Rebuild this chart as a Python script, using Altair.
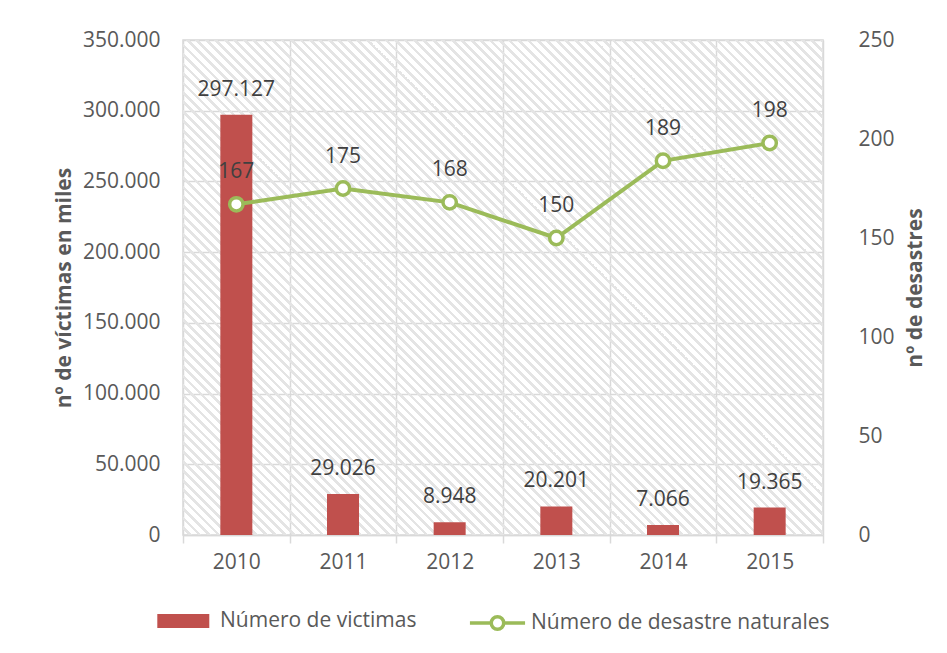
import altair as alt
import pandas as pd

# ---- data ----
years = ["2010", "2011", "2012", "2013", "2014", "2015"]
victims = [297127, 29026, 8948, 20201, 7066, 19365]
disasters = [167, 175, 168, 150, 189, 198]
bar_series = "Número de victimas"
line_series = "Número de desastre naturales"
left_ticks = [0, 50000, 100000, 150000, 200000, 250000, 300000, 350000]
right_ticks = [0, 50, 100, 150, 200, 250]

df = pd.DataFrame({
    "year": years,
    "victims": victims,
    "disasters": disasters,
    "bar_series": [bar_series] * len(years),
    "line_series": [line_series] * len(years),
})

W, H = 640, 495
FONT = "Open Sans"
GREY = "#595959"
DARK = "#404040"
GRID = "#d9d9d9"
RED = "#C0504D"
GREEN = "#9BBB59"

# diagonal hatch for the plot background, built as a striped linear gradient
period = 9.5
gray_frac = 0.4
r = H / W
s = (1 + r) / (1 + r * r)
n = int((W + H) / period) + 1
dt = 1.0 / n
CLEAR = "rgba(255,255,255,0)"
STRIPE = "#e4e4e4"
stops = []
for k in range(n):
    t0 = k * dt
    t1 = t0 + (1 - gray_frac) * dt
    t2 = min(1.0, t0 + dt)
    stops += [
        alt.GradientStop(offset=round(t0, 5), color=CLEAR),
        alt.GradientStop(offset=round(t1, 5), color=CLEAR),
        alt.GradientStop(offset=round(t1, 5), color=STRIPE),
        alt.GradientStop(offset=round(t2, 5), color=STRIPE),
    ]
hatch = alt.LinearGradient(gradient="linear", x1=0, y1=1, x2=s, y2=1 - s * r, stops=stops)

base = alt.Chart(df)

bg = alt.Chart(pd.DataFrame({"k": [0]})).mark_rect(color=hatch).encode(
    x=alt.value(0), x2=alt.value("width"), y=alt.value(0), y2=alt.value("height")
)

x_enc = alt.X(
    "year:N",
    title=None,
    scale=alt.Scale(paddingInner=0, paddingOuter=0),
    axis=alt.Axis(
        labelAngle=0, tickBand="extent", grid=True, gridColor=GRID, gridWidth=1.5,
        ticks=True, tickSize=8, tickColor=GRID, tickWidth=1.5,
        domainColor=GRID, domainWidth=1.5, labelPadding=8,
    ),
)

y_left = alt.Y(
    "victims:Q",
    scale=alt.Scale(domain=[0, 350000], nice=False),
    axis=alt.Axis(
        values=left_ticks, format=",d", title="nº de víctimas en miles",
        grid=True, gridColor=GRID, gridWidth=1.5, ticks=False, domain=False,
        labelPadding=23, titlePadding=8,
    ),
)

y_right = alt.Y(
    "disasters:Q",
    scale=alt.Scale(domain=[0, 250], nice=False),
    axis=alt.Axis(
        values=right_ticks, title="nº de desastres", orient="right",
        grid=False, ticks=False, domain=False, labelPadding=35, titlePadding=10,
        titleAngle=270, titleBaseline="top",
    ),
)

bars = base.mark_bar(size=32).encode(
    x=x_enc,
    y=y_left,
    fill=alt.Fill(
        "bar_series:N",
        scale=alt.Scale(domain=[bar_series], range=[RED]),
        legend=alt.Legend(
            title=None, orient="none", legendX=-12.7, legendY=568, padding=0,
            symbolType="M-2,-0.54H2V0.54H-2Z", symbolSize=676,
            symbolStrokeWidth=0, labelFont=FONT, labelFontSize=21,
            labelColor=GREY, labelOffset=23.7, labelLimit=400,
        ),
    ),
)

bar_text = base.mark_text(dy=-25, fontSize=21, font=FONT, color=DARK).encode(
    x=x_enc, y=y_left, text=alt.Text("victims:Q", format=",d")
)

line = base.mark_line(strokeWidth=4).encode(
    x=x_enc,
    y=y_right,
    stroke=alt.Stroke(
        "line_series:N",
        scale=alt.Scale(domain=[line_series], range=[GREEN]),
        legend=alt.Legend(
            title=None, orient="none", legendX=299.5, legendY=568, padding=0,
            symbolType="M-2.12,0H-0.48M0.48,0H2.12M0.48,0A0.48,0.48,0,1,1,-0.48,0A0.48,0.48,0,1,1,0.48,0",
            symbolSize=676, symbolStrokeWidth=3.5, symbolFillColor="white",
            labelFont=FONT, labelFontSize=21, labelColor=GREY, labelOffset=18.5,
            labelLimit=400,
        ),
    ),
)

points = base.mark_circle(size=180, fill="white", stroke=GREEN, strokeWidth=3.5, opacity=1).encode(
    x=x_enc, y=y_right
)

line_text = base.mark_text(dy=-32, fontSize=21, font=FONT, color=DARK).encode(
    x=x_enc, y=y_right, text=alt.Text("disasters:Q")
)

left = alt.layer(bg, bars, bar_text)
right = alt.layer(line, points, line_text)

chart = (
    alt.layer(left, right)
    .resolve_scale(y="independent")
    .properties(
        width=W, height=H, autosize="none", background="white",
        padding={"left": 175, "top": 32, "right": 110, "bottom": 100},
    )
    .configure(locale={"number": {"decimal": ",", "thousands": ".", "grouping": [3], "currency": ["", " €"]}})
    .configure_view(stroke=GRID, strokeWidth=1.5)
    .configure_axis(
        labelFont=FONT, titleFont=FONT, labelFontSize=21, titleFontSize=21,
        labelColor=GREY, titleColor=GREY, titleFontWeight="bold",
    )
)

chart.save("out.html", embed_options={"renderer": "svg", "actions": False})
